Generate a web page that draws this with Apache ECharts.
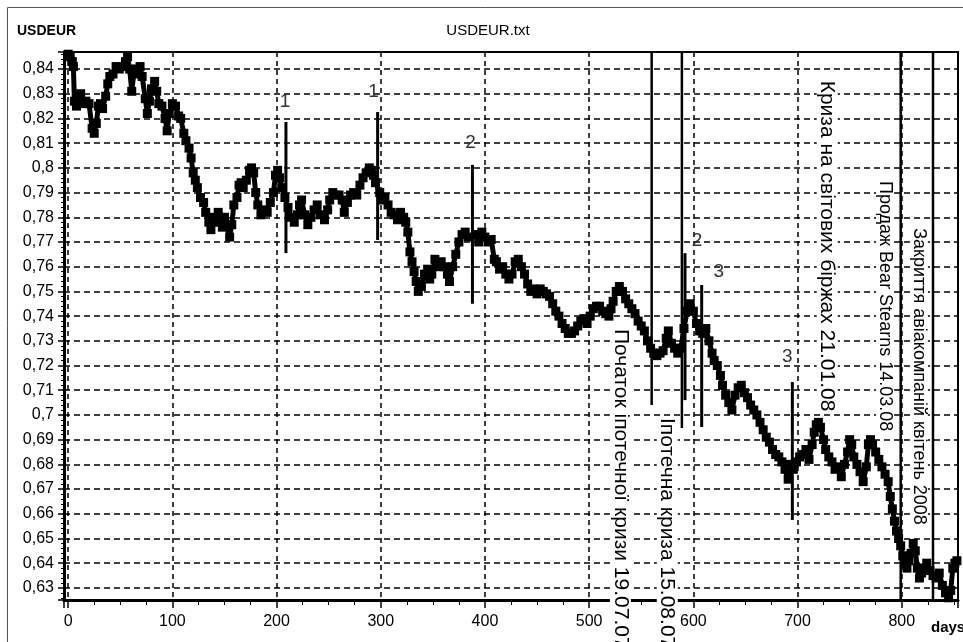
<!DOCTYPE html>
<html>
<head>
<meta charset="utf-8">
<script src="https://cdn.jsdelivr.net/npm/echarts@6/dist/echarts.min.js"></script>
<style>
  html, body { margin: 0; padding: 0; background: #fff; }
  #chart { width: 963px; height: 642px; }
</style>
</head>
<body>
<div id="chart"></div>
<script>
// USD/EUR exchange rate, day index from the start of the file
const days = [
  0, 2, 4, 5, 6, 8, 10, 12, 14, 17, 20, 23, 25, 27, 29, 31, 33, 36, 38, 40,
  43, 46, 49, 52, 55, 57, 59, 61, 63, 66, 69, 71, 74, 76, 78, 80, 83, 85, 87, 90,
  93, 95, 97, 100, 103, 106, 108, 111, 113, 116, 118, 120, 122, 124, 127, 130, 132, 135, 137, 139,
  141, 144, 146, 148, 150, 152, 155, 157, 159, 162, 164, 166, 168, 171, 174, 176, 178, 180, 182, 185,
  188, 191, 194, 197, 199, 201, 203, 205, 208, 211, 214, 217, 220, 222, 224, 227, 230, 233, 236, 239,
  242, 246, 249, 251, 254, 257, 260, 263, 265, 268, 271, 274, 277, 280, 283, 286, 289, 291, 293, 295,
  299, 301, 304, 307, 310, 313, 316, 319, 322, 324, 326, 328, 330, 332, 334, 336, 339, 342, 345, 347,
  349, 352, 355, 358, 361, 364, 366, 369, 372, 375, 378, 381, 384, 391, 394, 397, 400, 403, 406, 409,
  411, 414, 417, 420, 423, 426, 429, 432, 435, 438, 441, 444, 447, 450, 453, 456, 459, 462, 465, 468,
  471, 474, 477, 480, 483, 486, 489, 492, 495, 498, 501, 504, 507, 510, 513, 516, 519, 521, 523, 526,
  529, 532, 535, 538, 541, 544, 547, 550, 553, 556, 559, 562, 565, 568, 571, 574, 576, 579, 582, 585,
  588, 591, 594, 597, 600, 603, 606, 609, 612, 615, 618, 620, 623, 626, 628, 631, 634, 637, 640, 643,
  646, 649, 652, 655, 658, 661, 664, 667, 670, 673, 676, 679, 682, 685, 688, 691, 693, 696, 699, 702,
  705, 708, 711, 714, 716, 718, 720, 722, 725, 727, 730, 733, 736, 739, 742, 745, 748, 750, 752, 754,
  757, 760, 763, 766, 768, 770, 772, 775, 778, 781, 784, 787, 789, 791, 793, 795, 797, 799, 801, 803,
  805, 807, 809, 811, 813, 815, 817, 819, 821, 824, 827, 830, 833, 836, 839, 842, 845, 847, 849, 851,
  853
];
const rates = [
  0.846, 0.845, 0.843, 0.841, 0.827, 0.825, 0.828, 0.830, 0.826, 0.827, 0.826, 0.816, 0.814, 0.818, 0.825, 0.826, 0.824, 0.829, 0.834, 0.837,
  0.838, 0.841, 0.840, 0.841, 0.843, 0.845, 0.840, 0.831, 0.838, 0.840, 0.841, 0.837, 0.828, 0.822, 0.827, 0.832, 0.835, 0.831, 0.826, 0.825,
  0.820, 0.815, 0.822, 0.826, 0.825, 0.821, 0.820, 0.814, 0.811, 0.808, 0.804, 0.798, 0.795, 0.792, 0.788, 0.786, 0.782, 0.778, 0.775, 0.780,
  0.778, 0.782, 0.780, 0.776, 0.780, 0.777, 0.772, 0.777, 0.785, 0.788, 0.793, 0.794, 0.792, 0.795, 0.799, 0.800, 0.798, 0.790, 0.785, 0.781,
  0.783, 0.782, 0.786, 0.790, 0.797, 0.799, 0.796, 0.792, 0.788, 0.784, 0.780, 0.778, 0.781, 0.785, 0.787, 0.781, 0.777, 0.780, 0.783, 0.785,
  0.781, 0.779, 0.783, 0.787, 0.790, 0.789, 0.789, 0.787, 0.782, 0.786, 0.789, 0.790, 0.789, 0.793, 0.796, 0.798, 0.800, 0.799, 0.797, 0.794,
  0.790, 0.787, 0.788, 0.785, 0.782, 0.781, 0.779, 0.782, 0.780, 0.778, 0.774, 0.766, 0.762, 0.758, 0.754, 0.750, 0.752, 0.757, 0.759, 0.755,
  0.757, 0.763, 0.760, 0.762, 0.760, 0.757, 0.754, 0.760, 0.765, 0.770, 0.773, 0.774, 0.772, 0.773, 0.770, 0.774, 0.772, 0.770, 0.771, 0.763,
  0.762, 0.759, 0.760, 0.757, 0.755, 0.757, 0.762, 0.763, 0.760, 0.757, 0.753, 0.750, 0.751, 0.749, 0.751, 0.750, 0.749, 0.748, 0.745, 0.742,
  0.740, 0.737, 0.735, 0.733, 0.733, 0.734, 0.736, 0.738, 0.739, 0.737, 0.740, 0.743, 0.744, 0.744, 0.742, 0.741, 0.740, 0.743, 0.746, 0.750,
  0.752, 0.750, 0.747, 0.745, 0.743, 0.741, 0.738, 0.736, 0.734, 0.730, 0.727, 0.725, 0.724, 0.725, 0.726, 0.731, 0.734, 0.729, 0.727, 0.725,
  0.727, 0.735, 0.742, 0.745, 0.742, 0.737, 0.734, 0.733, 0.735, 0.730, 0.725, 0.722, 0.720, 0.716, 0.712, 0.708, 0.705, 0.702, 0.708, 0.711,
  0.712, 0.709, 0.707, 0.704, 0.702, 0.700, 0.697, 0.694, 0.691, 0.689, 0.686, 0.684, 0.683, 0.681, 0.678, 0.674, 0.680, 0.678, 0.681, 0.683,
  0.684, 0.686, 0.682, 0.688, 0.693, 0.696, 0.697, 0.695, 0.690, 0.686, 0.683, 0.681, 0.678, 0.679, 0.675, 0.680, 0.685, 0.690, 0.688, 0.683,
  0.680, 0.677, 0.673, 0.679, 0.688, 0.690, 0.688, 0.685, 0.682, 0.679, 0.676, 0.673, 0.667, 0.662, 0.657, 0.653, 0.650, 0.647, 0.643, 0.640,
  0.638, 0.641, 0.644, 0.648, 0.645, 0.638, 0.634, 0.636, 0.638, 0.640, 0.637, 0.635, 0.634, 0.636, 0.631, 0.628, 0.626, 0.629, 0.638, 0.640,
  0.641
];

// Single-day jumps marked with numbers
const spikeDays = [209, 297, 388, 592, 608, 695];
const spikeHigh = [0.8186, 0.8226, 0.8012, 0.7655, 0.7526, 0.7133];
const spikeLow  = [0.7655, 0.7708, 0.7450, 0.7060, 0.6951, 0.6575];
const spikeTags = ['1', '1', '2', '2', '3', '3'];

// Event lines (null: the line reaches the day axis)
const eventDays = [560, 589, 799, 830];
const eventLow  = [0.704, 0.6947, null, null];

// Event captions
const eventTexts = [
  'Початок іпотечної кризи 19.07.07',
  'Іпотечна криза 15.08.07',
  'Криза на світових біржах 21.01.08',
  'Продаж Bear Stearns 14.03.08',
  'Закриття авіакомпаній квітень 2008'
];

const yName = 'USDEUR';
const fileName = 'USDEUR.txt';
const xName = 'days';

// ---- layout ----
const X_MIN = -4, X_MAX = 854;
const Y_MIN = 0.6251, Y_MAX = 0.8469;
const FONT = '"Liberation Sans", Arial, sans-serif';

// caption start points in data space, caption font sizes, and tag offsets in pixels
const captionAnchors = [[530, 0.7352], [575, 0.6992], [728.5, 0.8357], [784, 0.7951], [816.5, 0.776]];
const captionSizes = [21, 21, 21, 18, 18];
const tagOffsets = [[-1, -20], [-4, -20], [-2, -22], [12, -12], [17, -13], [-5, -25]];

const chart = echarts.init(document.getElementById('chart'));

const series = days.map((d, i) => [d, rates[i]]);
const spikeData = spikeDays.map((d, i) => [d, spikeLow[i], spikeHigh[i], i]);
const eventData = eventDays.map((d, i) => [d, eventLow[i] == null ? Y_MIN : eventLow[i]]);
const captionData = captionAnchors.map((a, i) => [a[0], a[1], i]);

const fmtY = v => String(Math.round(v * 100) / 100).replace('.', ',');

chart.setOption({
  animation: false,
  backgroundColor: '#fff',
  grid: { left: 64, top: 52, right: 5, bottom: 42, show: true, borderColor: '#000', borderWidth: 2, backgroundColor: 'transparent' },
  xAxis: {
    type: 'value', min: X_MIN, max: X_MAX, splitNumber: 9, minInterval: 100, maxInterval: 100,
    axisLine: { show: true, onZero: false, lineStyle: { color: '#000', width: 3 } },
    axisTick: { show: true, length: 8, lineStyle: { color: '#000', width: 1.5 } },
    minorTick: { show: true, splitNumber: 4, length: 5, lineStyle: { color: '#000', width: 1 } },
    axisLabel: { showMinLabel: false, showMaxLabel: false, color: '#000', fontSize: 16, fontFamily: FONT, margin: 14 },
    splitLine: { show: true, lineStyle: { color: '#000', width: 1.5, type: [5, 4] } }
  },
  yAxis: {
    type: 'value', min: Y_MIN, max: Y_MAX, splitNumber: 22, minInterval: 0.01, maxInterval: 0.01,
    axisLine: { show: true, onZero: false, lineStyle: { color: '#000', width: 3 } },
    axisTick: { show: true, length: 6, lineStyle: { color: '#000', width: 1.5 } },
    minorTick: { show: true, splitNumber: 5, length: 3, lineStyle: { color: '#000', width: 1 } },
    axisLabel: { showMinLabel: false, showMaxLabel: false, color: '#000', fontSize: 16, fontFamily: FONT, margin: 10, formatter: fmtY },
    splitLine: { show: true, lineStyle: { color: '#000', width: 1.5, type: [6, 4] } }
  },
  graphic: [
    { type: 'rect', shape: { x: 7.5, y: 7.5, width: 1000, height: 700 }, style: { fill: 'none', stroke: '#555', lineWidth: 1 }, z: 0, silent: true },
    { type: 'text', x: 17, y: 31, style: { text: yName, font: 'bold 14px ' + FONT, fill: '#000', verticalAlign: 'middle' } },
    { type: 'text', x: 488, y: 31, style: { text: fileName, font: '15px ' + FONT, fill: '#000', align: 'center', verticalAlign: 'middle' } },
    { type: 'text', x: 931, y: 628, style: { text: xName, font: 'bold 15px ' + FONT, fill: '#000', verticalAlign: 'middle' } }
  ],
  series: [
    {
      type: 'line', data: series, symbol: 'rect', symbolSize: 9, showSymbol: true,
      itemStyle: { color: '#000' }, lineStyle: { color: '#000', width: 5 }, z: 3, silent: true
    },
    {
      type: 'custom', data: spikeData, z: 4, silent: true,
      renderItem: (params, api) => {
        const d = api.value(0), i = api.value(3);
        const lo = api.coord([d, api.value(1)]);
        const hi = api.coord([d, api.value(2)]);
        const off = tagOffsets[i];
        return {
          type: 'group', children: [
            { type: 'line', shape: { x1: lo[0], y1: lo[1], x2: hi[0], y2: hi[1] }, style: { stroke: '#000', lineWidth: 3 } },
            { type: 'text', x: hi[0] + off[0], y: hi[1] + off[1], style: { text: spikeTags[i], font: '19px ' + FONT, fill: '#333', align: 'center', verticalAlign: 'middle' } }
          ]
        };
      }
    },
    {
      type: 'custom', data: eventData, z: 4, silent: true,
      renderItem: (params, api) => {
        const d = api.value(0);
        const top = api.coord([d, Y_MAX]);
        const bot = api.coord([d, api.value(1)]);
        return { type: 'line', shape: { x1: top[0], y1: top[1], x2: bot[0], y2: bot[1] }, style: { stroke: '#000', lineWidth: 2.5 } };
      }
    },
    {
      type: 'custom', data: captionData, z: 5, silent: true,
      renderItem: (params, api) => {
        const i = api.value(2);
        const p = api.coord([api.value(0), api.value(1)]);
        return {
          type: 'text', x: p[0], y: p[1], rotation: -Math.PI / 2,
          style: { text: eventTexts[i], font: captionSizes[i] + 'px ' + FONT, fill: '#000', align: 'left', verticalAlign: 'middle', backgroundColor: '#fff', padding: [0, 1] }
        };
      }
    }
  ]
});
</script>
</body>
</html>
